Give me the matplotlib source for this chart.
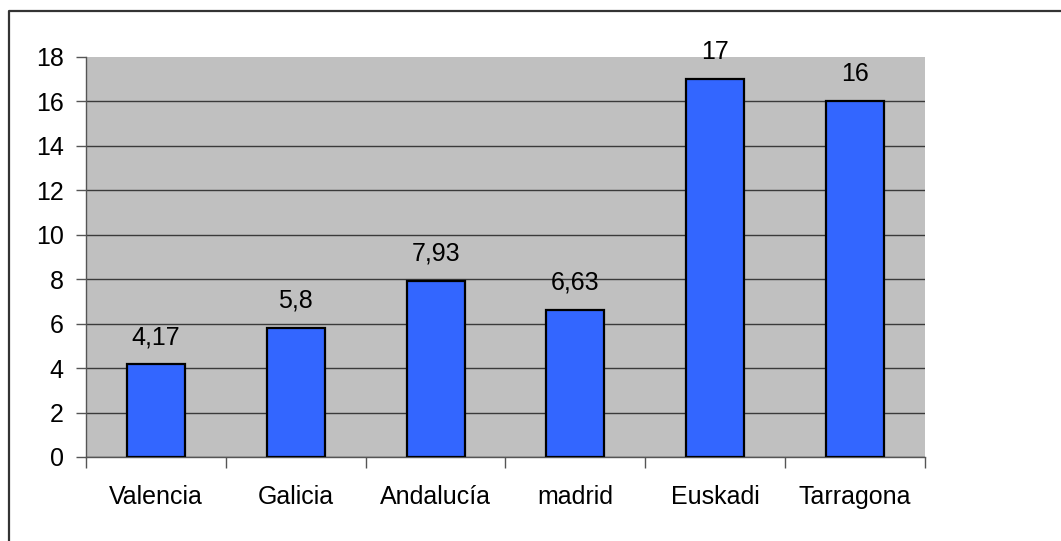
import matplotlib.pyplot as plt
from matplotlib.lines import Line2D
import numpy as np

plt.rcParams['font.family'] = ['Liberation Sans', 'DejaVu Sans']

# datos
regiones = ['Valencia', 'Galicia', 'Andalucía', 'madrid', 'Euskadi', 'Tarragona']
valores = [4.17, 5.8, 7.93, 6.63, 17, 16]
etiquetas = ['4,17', '5,8', '7,93', '6,63', '17', '16']

fs = 18

fig = plt.figure(figsize=(10.61, 5.41), dpi=100)
ax = fig.add_axes([86 / 1061, 1 - 457 / 541, 839 / 1061, 400 / 541])
ax.set_facecolor('#C0C0C0')

x = np.arange(len(regiones))
ax.bar(x, valores, width=0.415, color='#3366FF', edgecolor='black', linewidth=1.6, zorder=3)

for xi, v, lab in zip(x, valores, etiquetas):
    ax.annotate(lab, (xi, v), xytext=(0, 14.5), textcoords='offset points',
                ha='center', va='baseline', fontsize=fs, color='black')

ax.set_xlim(-0.5, len(regiones) - 0.5)
ax.set_ylim(0, 18)
ax.set_yticks(range(0, 19, 2))
ax.yaxis.grid(True, color='#3a3a3a', linewidth=1.0, zorder=1)
ax.get_ygridlines()[-1].set_visible(False)
ax.set_axisbelow(True)

ax.set_xticks(x)
ax.set_xticklabels(regiones)
ax.set_xticks(np.arange(-0.5, len(regiones)), minor=True)
ax.tick_params(axis='x', which='major', length=0, pad=20, labelsize=fs)
ax.tick_params(axis='x', which='minor', length=8, width=1, color='#555555', direction='out')
ax.tick_params(axis='y', length=7, width=1, color='#555555', pad=9, labelsize=fs)

for s in ['top', 'right']:
    ax.spines[s].set_visible(False)
for s in ['left', 'bottom']:
    ax.spines[s].set_color('#555555')
    ax.spines[s].set_linewidth(1)

# marco de la figura
borde = Line2D([8.5 / 1061, 8.5 / 1061, 1.0], [0.0, 1 - 10.5 / 541, 1 - 10.5 / 541],
               transform=fig.transFigure, color='#333333', linewidth=1.6)
fig.add_artist(borde)

fig.savefig('out.png', dpi=100)
